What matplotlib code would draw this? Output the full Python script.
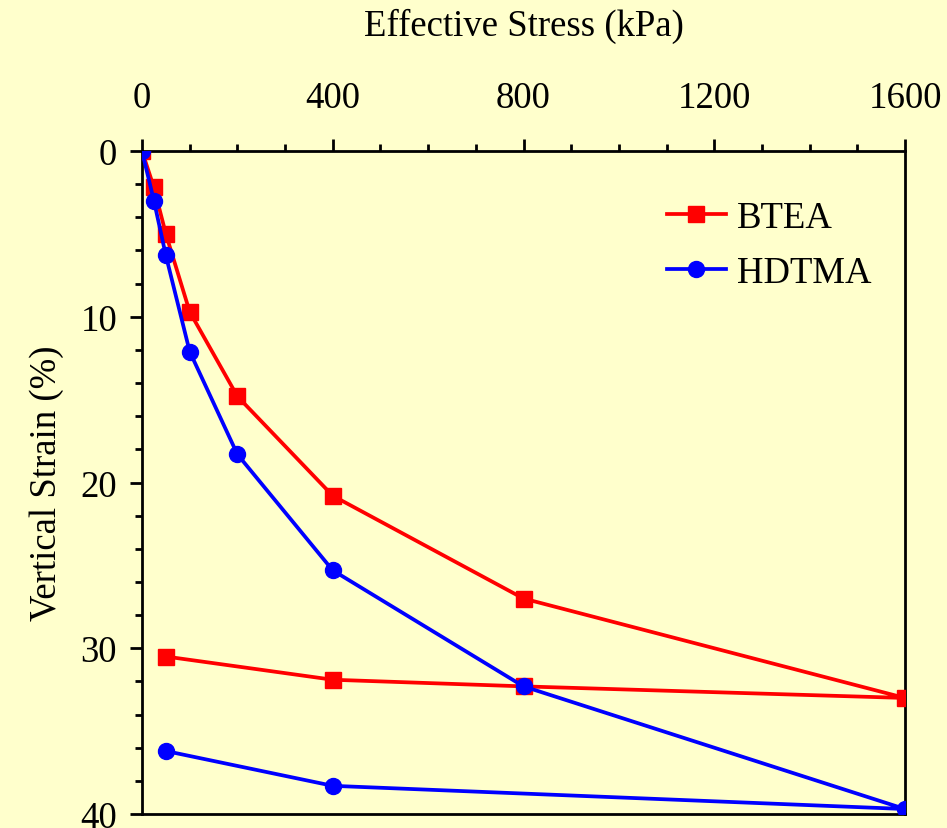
import matplotlib
matplotlib.use("Agg")
import matplotlib.pyplot as plt
from matplotlib.ticker import MultipleLocator

# consolidation data, loading then unloading
btea_stress = [0, 25, 50, 100, 200, 400, 800, 1600, 800, 400, 50]
btea_strain = [0, 2.2, 5.0, 9.7, 14.8, 20.8, 27.0, 33.0, 32.3, 31.9, 30.5]

hdtma_stress = [0, 25, 50, 100, 200, 400, 800, 1600, 400, 50]
hdtma_strain = [0, 3.0, 6.3, 12.1, 18.3, 25.3, 32.3, 39.7, 38.3, 36.2]

x_ticks = [0, 400, 800, 1200, 1600]
y_ticks = [0, 10, 20, 30, 40]

BG = "#FFFFCC"

plt.rcParams["font.family"] = ["Liberation Serif", "DejaVu Serif"]

fig = plt.figure(figsize=(9.47, 8.29), dpi=100, facecolor=BG)
ax = fig.add_axes([142 / 947, 1 - 815 / 829, (905 - 142) / 947, (815 - 152) / 829])
ax.set_facecolor(BG)

ax.plot(btea_stress, btea_strain, color="red", lw=2.7, marker="s",
        markersize=11, markerfacecolor="red", markeredgecolor="red",
        label="BTEA", zorder=3)
ax.plot(hdtma_stress, hdtma_strain, color="blue", lw=2.7, marker="o",
        markersize=11.5, markerfacecolor="blue", markeredgecolor="blue",
        label="HDTMA", zorder=4)

ax.set_xlim(0, 1600)
ax.set_ylim(40, 0)
ax.xaxis.tick_top()
ax.xaxis.set_label_position("top")
ax.set_xticks(x_ticks)
ax.set_yticks(y_ticks)
ax.xaxis.set_minor_locator(MultipleLocator(100))
ax.yaxis.set_minor_locator(MultipleLocator(2))

ax.tick_params(which="major", direction="out", length=9, width=2,
               labelsize=26.5)
ax.tick_params(which="minor", direction="out", length=5, width=2)
ax.tick_params(axis="x", which="major", pad=17)
ax.tick_params(axis="y", which="major", pad=9)
ax.tick_params(axis="y", which="both", right=False)
ax.tick_params(axis="x", which="both", bottom=False)

for s in ax.spines.values():
    s.set_linewidth(2)

ax.set_xlabel("Effective Stress (kPa)", fontsize=26.5, labelpad=33)
ax.set_ylabel("Vertical Strain (%)", fontsize=26.5, labelpad=12)

leg = ax.legend(loc="upper left", bbox_to_anchor=(0.688, 0.925), frameon=False,
                fontsize=26.5, handlelength=1.6, handletextpad=0.3,
                labelspacing=0.55, borderpad=0, borderaxespad=0)

fig.savefig("out.png", dpi=100, facecolor=BG)
